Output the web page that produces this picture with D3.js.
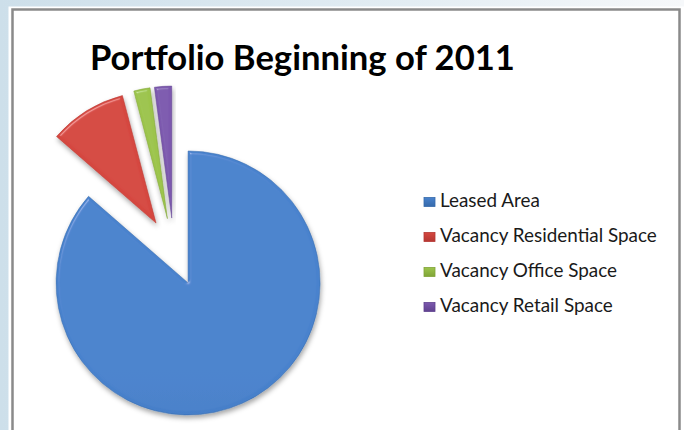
<!DOCTYPE html>
<html>
<head>
<meta charset="utf-8">
<script src="https://cdn.jsdelivr.net/npm/d3@7/dist/d3.min.js"></script>
<style>
  html, body { margin: 0; padding: 0; background: #fff; }
  svg { display: block; }
</style>
</head>
<body>
<div id="vis"></div>
<script>
// chart data
var categories = ["Leased Area", "Vacancy Residential Space", "Vacancy Office Space", "Vacancy Retail Space"];
var values = [86.4, 9.5, 2.0, 2.1];
var title = "Portfolio Beginning of 2011";

var colors = ["#4882cd", "#d5473f", "#9cc44b", "#7c59ae"];
var darkColors = ["#366aab", "#b53732", "#80a437", "#60428f"];

var width = 684;
var height = 430;

// pie layout
var cx = 174, cy = 252;
var radius = 132;
var explode = 34;

var svg = d3.select("#vis")
    .append("svg")
    .attr("width", width)
    .attr("height", height);

var defs = svg.append("defs");

// light blue frame behind the chart area
var bg = defs.append("linearGradient")
    .attr("id", "bg")
    .attr("x1", "0").attr("y1", "0")
    .attr("x2", "1").attr("y2", "0");
bg.append("stop").attr("offset", "0").attr("stop-color", "#cddfea");
bg.append("stop").attr("offset", "0.6").attr("stop-color", "#e3edf3");
bg.append("stop").attr("offset", "1").attr("stop-color", "#f6f8fa");

// vertical shading for each slice colour
colors.forEach(function(c, i) {
    var g = defs.append("linearGradient")
        .attr("id", "fill" + i)
        .attr("gradientUnits", "userSpaceOnUse")
        .attr("x1", 0).attr("y1", cy - radius - explode)
        .attr("x2", 0).attr("y2", cy + radius + explode);
    g.append("stop").attr("offset", "0").attr("stop-color", c);
    g.append("stop").attr("offset", "1").attr("stop-color", darkColors[i]);
    // legend squares use their own box
    var l = defs.append("linearGradient")
        .attr("id", "key" + i)
        .attr("x1", 0).attr("y1", 0)
        .attr("x2", 0).attr("y2", 1);
    l.append("stop").attr("offset", "0").attr("stop-color", c);
    l.append("stop").attr("offset", "1").attr("stop-color", darkColors[i]);
});

// bevel + drop shadow
var f = defs.append("filter")
    .attr("id", "bevel")
    .attr("x", "-20%").attr("y", "-20%")
    .attr("width", "140%").attr("height", "140%");
f.append("feGaussianBlur").attr("in", "SourceAlpha").attr("stdDeviation", 1.6).attr("result", "blur");
var spec = f.append("feSpecularLighting")
    .attr("in", "blur")
    .attr("surfaceScale", 2.5)
    .attr("specularConstant", 0.8)
    .attr("specularExponent", 40)
    .attr("lighting-color", "#ffffff")
    .attr("result", "spec");
spec.append("feDistantLight").attr("azimuth", 235).attr("elevation", 45);
f.append("feComposite").attr("in", "spec").attr("in2", "SourceAlpha").attr("operator", "in").attr("result", "specIn");
f.append("feComposite").attr("in", "SourceGraphic").attr("in2", "specIn")
    .attr("operator", "arithmetic").attr("k1", 0).attr("k2", 1).attr("k3", 0.3).attr("k4", 0)
    .attr("result", "lit");
f.append("feGaussianBlur").attr("in", "SourceAlpha").attr("stdDeviation", 2.5).attr("result", "sb");
f.append("feOffset").attr("in", "sb").attr("dx", 1).attr("dy", 3).attr("result", "so");
f.append("feFlood").attr("flood-color", "#000").attr("flood-opacity", 0.35);
f.append("feComposite").attr("in2", "so").attr("operator", "in").attr("result", "shadow");
var merge = f.append("feMerge");
merge.append("feMergeNode").attr("in", "shadow");
merge.append("feMergeNode").attr("in", "lit");

// frame
svg.append("rect")
    .attr("width", width).attr("height", height)
    .attr("fill", "url(#bg)");

svg.append("rect")
    .attr("x", 8.5).attr("y", 6.5)
    .attr("width", 676).attr("height", 440)
    .attr("fill", "#ffffff");

svg.append("rect")
    .attr("x", 12.5).attr("y", 9.5)
    .attr("width", 667).attr("height", 440)
    .attr("fill", "#ffffff")
    .attr("stroke", "#8a8a8a")
    .attr("stroke-width", 2.5);

// title, sized to the reference width
var titleText = svg.append("text")
    .attr("x", 90)
    .attr("y", 70)
    .style("font-family", "Lato, 'Open Sans', sans-serif")
    .style("font-weight", "bold")
    .style("font-size", "36px")
    .attr("fill", "#000")
    .text(title);
var tw = titleText.node().getComputedTextLength();
titleText.style("font-size", (36 * 425 / tw) + "px");

// pie
var pie = d3.pie().sort(null).value(function(d) { return d; });
var arc = d3.arc().innerRadius(0).outerRadius(radius);
var arcs = pie(values);

svg.append("g")
    .attr("transform", "translate(" + cx + "," + cy + ")")
    .selectAll("path")
    .data(arcs)
    .enter()
    .append("path")
    .attr("transform", function(d) {
        var a = (d.startAngle + d.endAngle) / 2;
        return "translate(" + (explode * Math.sin(a)) + "," + (-explode * Math.cos(a)) + ")";
    })
    .attr("d", arc)
    .attr("fill", function(d, i) { return "url(#fill" + i + ")"; })
    .attr("stroke", function(d, i) { return darkColors[i]; })
    .attr("stroke-opacity", 0.5)
    .attr("stroke-width", 1)
    .attr("filter", "url(#bevel)");

// legend
var legendY = d3.scalePoint()
    .domain(categories)
    .range([202, 307]);

var legend = svg.append("g")
    .selectAll("g")
    .data(categories)
    .enter()
    .append("g")
    .attr("transform", function(d) { return "translate(424," + legendY(d) + ")"; });

legend.append("rect")
    .attr("x", 0).attr("y", -4.5)
    .attr("width", 11).attr("height", 9)
    .attr("fill", function(d, i) { return "url(#key" + i + ")"; })
    .attr("stroke", function(d, i) { return darkColors[i]; })
    .attr("stroke-width", 0.8);

var labels = legend.append("text")
    .attr("x", 16)
    .attr("y", 5)
    .style("font-family", "Lato, 'Open Sans', sans-serif")
    .style("font-size", "16px")
    .attr("fill", "#1a1a1a")
    .text(function(d) { return d; });

// fit legend font to the reference label width
var lw = labels.nodes()[1].getComputedTextLength();
labels.style("font-size", (16 * 217 / lw) + "px");
</script>
</body>
</html>
